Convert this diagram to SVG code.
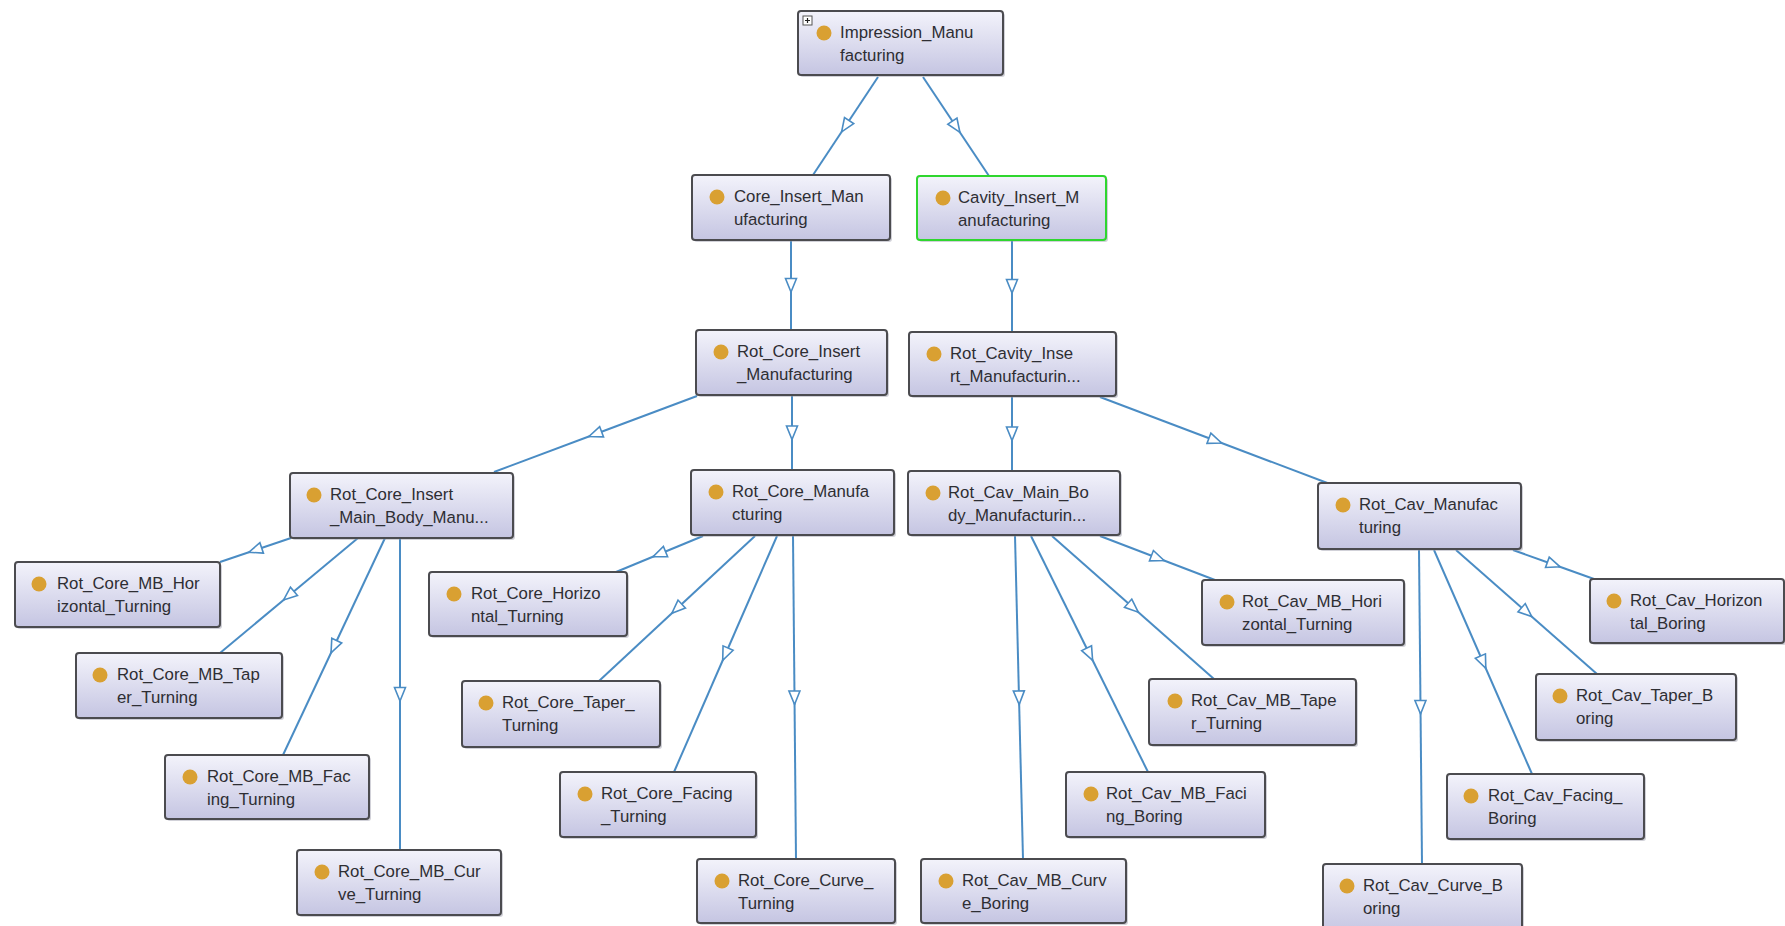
<svg xmlns="http://www.w3.org/2000/svg" width="1785" height="926" viewBox="0 0 1785 926">
<defs>
<linearGradient id="g" x1="0" y1="0" x2="0" y2="1">
<stop offset="0" stop-color="#f3f3fb"/>
<stop offset="1" stop-color="#c5c5e2"/>
</linearGradient>
<marker id="tri" viewBox="0 0 16 14" refX="8" refY="7" markerWidth="16" markerHeight="14" markerUnits="userSpaceOnUse" orient="auto">
<path d="M1.5,1.5 L15,7 L1.5,12.5 Z" fill="#ffffff" stroke="#4a8cc4" stroke-width="1.6" stroke-linejoin="miter"/>
</marker>
</defs>
<style>
.e{fill:none;stroke:#4a8cc4;stroke-width:2;marker-mid:url(#tri)}
.sh{fill:#9a9aa8;opacity:0.45}
.b{fill:url(#g);stroke:#4b4b4f;stroke-width:2}
.sel{stroke:#2fd62f}
.d{fill:#d9a032;transform:translate(0px,-1px)}
.t{font-family:"Liberation Sans",Arial,sans-serif;font-size:16.8px;fill:#2e2e33;transform:translate(0px,-2px)}
</style>
<rect width="1785" height="926" fill="#ffffff"/>
<g id="connectors">
<path class="e" d="M878,77 L845.5,126 L813,175"/>
<path class="e" d="M923,77 L956,126.5 L989,176"/>
<path class="e" d="M791,240 L791,285 L791,330"/>
<path class="e" d="M1012,240 L1012,286 L1012,332"/>
<path class="e" d="M697,396 L595.5,434 L494,472"/>
<path class="e" d="M792,395 L792,432.5 L792,470"/>
<path class="e" d="M1012,396 L1012,433.5 L1012,471"/>
<path class="e" d="M1100,397 L1215,440.5 L1330,484"/>
<path class="e" d="M291,538 L255.5,550 L220,562"/>
<path class="e" d="M358,538 L289,595.5 L220,653"/>
<path class="e" d="M385,538 L334,646.5 L283,755"/>
<path class="e" d="M400,538 L400,694 L400,850"/>
<path class="e" d="M703,536 L659.5,554 L616,572"/>
<path class="e" d="M755,536 L677,608.5 L599,681"/>
<path class="e" d="M777,536 L725.5,654 L674,772"/>
<path class="e" d="M793,536 L794.5,697.5 L796,859"/>
<path class="e" d="M1015,536 L1019,697.5 L1023,859"/>
<path class="e" d="M1031,536 L1089.5,654 L1148,772"/>
<path class="e" d="M1052,536 L1133,607.5 L1214,679"/>
<path class="e" d="M1100,536 L1157.5,558 L1215,580"/>
<path class="e" d="M1513,550 L1553.5,564.5 L1594,579"/>
<path class="e" d="M1456,550 L1526.5,612 L1597,674"/>
<path class="e" d="M1434,550 L1483,662 L1532,774"/>
<path class="e" d="M1419,550 L1420.5,707 L1422,864"/>
</g>
<g id="n_Impression_Manufacturing">
<rect class="sh" x="800" y="13" width="205" height="64" rx="3"/>
<rect class="b" x="798" y="11" width="205" height="64" rx="3"/>
<rect x="803" y="16" width="9" height="9" fill="#ffffff" stroke="#555" stroke-width="1"/>
<path d="M805,20.5 H810 M807.5,18 V23" stroke="#222" stroke-width="1.2"/>
<circle class="d" cx="824" cy="34" r="7.5"/>
<text class="t" x="840" y="40">Impression_Manu</text>
<text class="t" x="840" y="63">facturing</text>
</g>
<g id="n_Core_Insert_Manufacturing">
<rect class="sh" x="694" y="177" width="198" height="65" rx="3"/>
<rect class="b" x="692" y="175" width="198" height="65" rx="3"/>
<circle class="d" cx="717" cy="198" r="7.5"/>
<text class="t" x="734" y="204">Core_Insert_Man</text>
<text class="t" x="734" y="227">ufacturing</text>
</g>
<g id="n_Cavity_Insert_Manufacturing">
<rect class="sh" x="919" y="178" width="189" height="64" rx="3"/>
<rect class="b sel" x="917" y="176" width="189" height="64" rx="3"/>
<circle class="d" cx="943" cy="199" r="7.5"/>
<text class="t" x="958" y="205">Cavity_Insert_M</text>
<text class="t" x="958" y="228">anufacturing</text>
</g>
<g id="n_Rot_Core_Insert_Manufacturing">
<rect class="sh" x="698" y="332" width="191" height="65" rx="3"/>
<rect class="b" x="696" y="330" width="191" height="65" rx="3"/>
<circle class="d" cx="721" cy="353" r="7.5"/>
<text class="t" x="737" y="359">Rot_Core_Insert</text>
<text class="t" x="737" y="382">_Manufacturing</text>
</g>
<g id="n_Rot_Cavity_Insert_Manufacturing">
<rect class="sh" x="911" y="334" width="207" height="64" rx="3"/>
<rect class="b" x="909" y="332" width="207" height="64" rx="3"/>
<circle class="d" cx="934" cy="355" r="7.5"/>
<text class="t" x="950" y="361">Rot_Cavity_Inse</text>
<text class="t" x="950" y="384">rt_Manufacturin...</text>
</g>
<g id="n_Rot_Core_Insert_Main_Body_Manufacturing">
<rect class="sh" x="292" y="475" width="223" height="65" rx="3"/>
<rect class="b" x="290" y="473" width="223" height="65" rx="3"/>
<circle class="d" cx="314" cy="496" r="7.5"/>
<text class="t" x="330" y="502">Rot_Core_Insert</text>
<text class="t" x="330" y="525">_Main_Body_Manu...</text>
</g>
<g id="n_Rot_Core_Manufacturing">
<rect class="sh" x="693" y="472" width="203" height="65" rx="3"/>
<rect class="b" x="691" y="470" width="203" height="65" rx="3"/>
<circle class="d" cx="716" cy="493" r="7.5"/>
<text class="t" x="732" y="499">Rot_Core_Manufa</text>
<text class="t" x="732" y="522">cturing</text>
</g>
<g id="n_Rot_Cav_Main_Body_Manufacturing">
<rect class="sh" x="910" y="473" width="212" height="64" rx="3"/>
<rect class="b" x="908" y="471" width="212" height="64" rx="3"/>
<circle class="d" cx="933" cy="494" r="7.5"/>
<text class="t" x="948" y="500">Rot_Cav_Main_Bo</text>
<text class="t" x="948" y="523">dy_Manufacturin...</text>
</g>
<g id="n_Rot_Cav_Manufacturing">
<rect class="sh" x="1320" y="485" width="203" height="66" rx="3"/>
<rect class="b" x="1318" y="483" width="203" height="66" rx="3"/>
<circle class="d" cx="1343" cy="506" r="7.5"/>
<text class="t" x="1359" y="512">Rot_Cav_Manufac</text>
<text class="t" x="1359" y="535">turing</text>
</g>
<g id="n_Rot_Core_MB_Horizontal_Turning">
<rect class="sh" x="17" y="564" width="205" height="65" rx="3"/>
<rect class="b" x="15" y="562" width="205" height="65" rx="3"/>
<circle class="d" cx="39" cy="585" r="7.5"/>
<text class="t" x="57" y="591">Rot_Core_MB_Hor</text>
<text class="t" x="57" y="614">izontal_Turning</text>
</g>
<g id="n_Rot_Core_MB_Taper_Turning">
<rect class="sh" x="78" y="655" width="206" height="65" rx="3"/>
<rect class="b" x="76" y="653" width="206" height="65" rx="3"/>
<circle class="d" cx="100" cy="676" r="7.5"/>
<text class="t" x="117" y="682">Rot_Core_MB_Tap</text>
<text class="t" x="117" y="705">er_Turning</text>
</g>
<g id="n_Rot_Core_MB_Facing_Turning">
<rect class="sh" x="167" y="757" width="204" height="64" rx="3"/>
<rect class="b" x="165" y="755" width="204" height="64" rx="3"/>
<circle class="d" cx="190" cy="778" r="7.5"/>
<text class="t" x="207" y="784">Rot_Core_MB_Fac</text>
<text class="t" x="207" y="807">ing_Turning</text>
</g>
<g id="n_Rot_Core_MB_Curve_Turning">
<rect class="sh" x="299" y="852" width="204" height="65" rx="3"/>
<rect class="b" x="297" y="850" width="204" height="65" rx="3"/>
<circle class="d" cx="322" cy="873" r="7.5"/>
<text class="t" x="338" y="879">Rot_Core_MB_Cur</text>
<text class="t" x="338" y="902">ve_Turning</text>
</g>
<g id="n_Rot_Core_Horizontal_Turning">
<rect class="sh" x="431" y="574" width="198" height="64" rx="3"/>
<rect class="b" x="429" y="572" width="198" height="64" rx="3"/>
<circle class="d" cx="454" cy="595" r="7.5"/>
<text class="t" x="471" y="601">Rot_Core_Horizo</text>
<text class="t" x="471" y="624">ntal_Turning</text>
</g>
<g id="n_Rot_Core_Taper_Turning">
<rect class="sh" x="464" y="683" width="198" height="66" rx="3"/>
<rect class="b" x="462" y="681" width="198" height="66" rx="3"/>
<circle class="d" cx="486" cy="704" r="7.5"/>
<text class="t" x="502" y="710">Rot_Core_Taper_</text>
<text class="t" x="502" y="733">Turning</text>
</g>
<g id="n_Rot_Core_Facing_Turning">
<rect class="sh" x="562" y="774" width="196" height="65" rx="3"/>
<rect class="b" x="560" y="772" width="196" height="65" rx="3"/>
<circle class="d" cx="585" cy="795" r="7.5"/>
<text class="t" x="601" y="801">Rot_Core_Facing</text>
<text class="t" x="601" y="824">_Turning</text>
</g>
<g id="n_Rot_Core_Curve_Turning">
<rect class="sh" x="699" y="861" width="198" height="64" rx="3"/>
<rect class="b" x="697" y="859" width="198" height="64" rx="3"/>
<circle class="d" cx="722" cy="882" r="7.5"/>
<text class="t" x="738" y="888">Rot_Core_Curve_</text>
<text class="t" x="738" y="911">Turning</text>
</g>
<g id="n_Rot_Cav_MB_Curve_Boring">
<rect class="sh" x="923" y="861" width="205" height="64" rx="3"/>
<rect class="b" x="921" y="859" width="205" height="64" rx="3"/>
<circle class="d" cx="946" cy="882" r="7.5"/>
<text class="t" x="962" y="888">Rot_Cav_MB_Curv</text>
<text class="t" x="962" y="911">e_Boring</text>
</g>
<g id="n_Rot_Cav_MB_Facing_Boring">
<rect class="sh" x="1068" y="774" width="199" height="65" rx="3"/>
<rect class="b" x="1066" y="772" width="199" height="65" rx="3"/>
<circle class="d" cx="1091" cy="795" r="7.5"/>
<text class="t" x="1106" y="801">Rot_Cav_MB_Faci</text>
<text class="t" x="1106" y="824">ng_Boring</text>
</g>
<g id="n_Rot_Cav_MB_Taper_Turning">
<rect class="sh" x="1151" y="681" width="207" height="66" rx="3"/>
<rect class="b" x="1149" y="679" width="207" height="66" rx="3"/>
<circle class="d" cx="1175" cy="702" r="7.5"/>
<text class="t" x="1191" y="708">Rot_Cav_MB_Tape</text>
<text class="t" x="1191" y="731">r_Turning</text>
</g>
<g id="n_Rot_Cav_MB_Horizontal_Turning">
<rect class="sh" x="1204" y="582" width="202" height="65" rx="3"/>
<rect class="b" x="1202" y="580" width="202" height="65" rx="3"/>
<circle class="d" cx="1227" cy="603" r="7.5"/>
<text class="t" x="1242" y="609">Rot_Cav_MB_Hori</text>
<text class="t" x="1242" y="632">zontal_Turning</text>
</g>
<g id="n_Rot_Cav_Horizontal_Boring">
<rect class="sh" x="1592" y="581" width="194" height="64" rx="3"/>
<rect class="b" x="1590" y="579" width="194" height="64" rx="3"/>
<circle class="d" cx="1614" cy="602" r="7.5"/>
<text class="t" x="1630" y="608">Rot_Cav_Horizon</text>
<text class="t" x="1630" y="631">tal_Boring</text>
</g>
<g id="n_Rot_Cav_Taper_Boring">
<rect class="sh" x="1538" y="676" width="200" height="66" rx="3"/>
<rect class="b" x="1536" y="674" width="200" height="66" rx="3"/>
<circle class="d" cx="1560" cy="697" r="7.5"/>
<text class="t" x="1576" y="703">Rot_Cav_Taper_B</text>
<text class="t" x="1576" y="726">oring</text>
</g>
<g id="n_Rot_Cav_Facing_Boring">
<rect class="sh" x="1449" y="776" width="197" height="65" rx="3"/>
<rect class="b" x="1447" y="774" width="197" height="65" rx="3"/>
<circle class="d" cx="1471" cy="797" r="7.5"/>
<text class="t" x="1488" y="803">Rot_Cav_Facing_</text>
<text class="t" x="1488" y="826">Boring</text>
</g>
<g id="n_Rot_Cav_Curve_Boring">
<rect class="sh" x="1325" y="866" width="199" height="70" rx="3"/>
<rect class="b" x="1323" y="864" width="199" height="70" rx="3"/>
<circle class="d" cx="1347" cy="887" r="7.5"/>
<text class="t" x="1363" y="893">Rot_Cav_Curve_B</text>
<text class="t" x="1363" y="916">oring</text>
</g>
</svg>
